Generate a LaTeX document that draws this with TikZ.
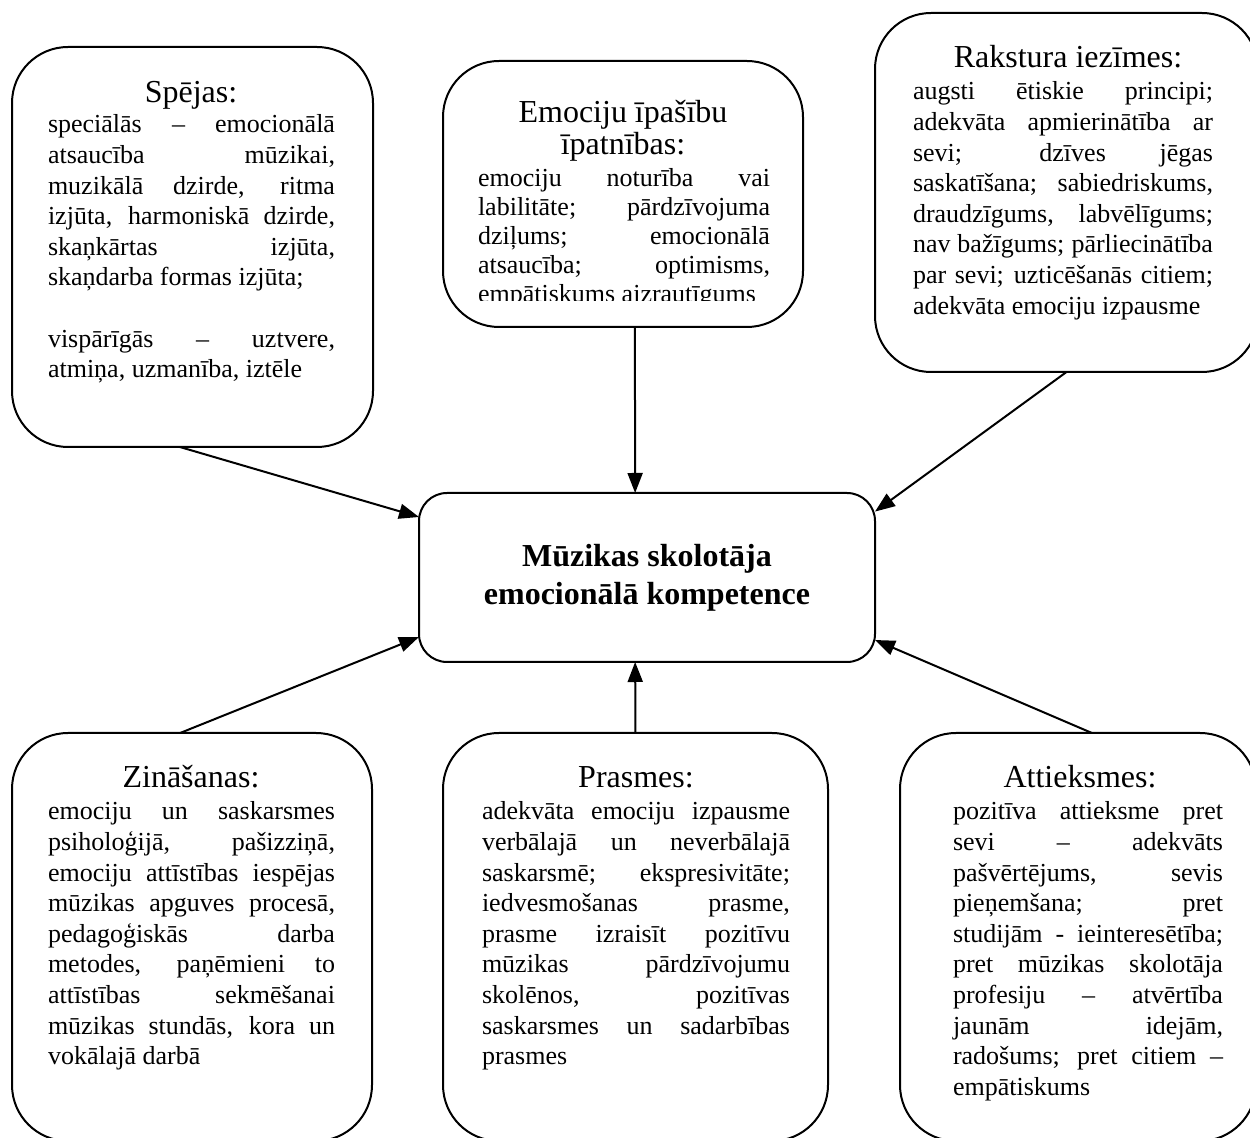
\documentclass[tikz,border=0pt]{standalone}
\usepackage{fontspec}
\setmainfont{Liberation Serif}
\usetikzlibrary{arrows.meta,calc}

\newcommand\jl[1]{\makebox[\linewidth][s]{#1}\par}
\newcommand\bodyfont{\fontsize{13pt}{15.3pt}\selectfont}
\newcommand\bodyfontb{\fontsize{13pt}{14.5pt}\selectfont}
\newcommand\titlefont{\fontsize{16pt}{13.5pt}\selectfont}

\begin{document}
\begin{tikzpicture}[x=0.5pt,y=-0.5pt,
  box/.style={draw,line width=1pt,rounded corners=28pt,inner sep=0pt,outer sep=0pt},
  ttl/.style={anchor=base,inner sep=0pt,outer sep=0pt,font=\titlefont},
  bodytext/.style={anchor=base west,inner sep=0pt,outer sep=0pt},
  arr/.style={line width=1pt,-{Triangle[length=10pt,width=7.5pt]}}]
\useasboundingbox (0,0) rectangle (1250,1138);

% ---------- boxes ----------
\node[box,minimum width=180.5pt,minimum height=200pt] (spejas) at (192.5,247) {};
\node[box,minimum width=180pt,minimum height=133pt] (emo) at (623,194) {};
\node[box,minimum width=191.5pt,minimum height=179.5pt] (rak) at (1066.5,192.5) {};
\node[box,minimum width=180pt,minimum height=204pt] (zin) at (192,937) {};
\node[box,minimum width=192.5pt,minimum height=204pt] (pras) at (635.5,937) {};
\node[box,minimum width=178pt,minimum height=204pt] (att) at (1078,937) {};
\node[box,rounded corners=14pt,minimum width=228pt,minimum height=84.5pt,align=center,
      font=\bfseries\fontsize{16pt}{19pt}\selectfont] (cen) at (647,577.5)
      {Mūzikas skolotāja\\emocionālā kompetence};

% ---------- Spējas ----------
\node[ttl] (spejasT) at (191,103) {Spējas:};
\node[bodytext] (spejasB) at (48,133) {\parbox[t]{143.5pt}{\bodyfont
\jl{speciālās – emocionālā}
\jl{atsaucība mūzikai,}
\jl{muzikālā dzirde, ritma}
\jl{izjūta, harmoniskā dzirde,}
\jl{skaņkārtas izjūta,}
skaņdarba formas izjūta;\par\vspace{\baselineskip}
\jl{vispārīgās – uztvere,}
atmiņa, uzmanība, iztēle}};

% ---------- Emociju ----------
\node[anchor=base,inner sep=0pt,outer sep=0pt] (emoT) at (623,123)
  {\parbox[t]{170pt}{\centering\titlefont Emociju īpašību\\īpatnības:}};
\begin{scope}
\clip (443,61) rectangle (803,300.5);
\node[bodytext] (emoB) at (478,187) {\parbox[t]{146pt}{\bodyfontb
\jl{emociju noturība vai}
\jl{labilitāte; pārdzīvojuma}
\jl{dziļums; emocionālā}
\jl{atsaucība; optimisms,}
empātiskums aizrautīgums}};
\end{scope}

% ---------- Rakstura ----------
\node[ttl] (rakT) at (1068,68) {Rakstura iezīmes:};
\node[bodytext] (rakB) at (913,100) {\parbox[t]{150pt}{\bodyfont
\jl{augsti ētiskie principi;}
\jl{adekvāta apmierinātība ar}
\jl{sevi; dzīves jēgas}
\jl{saskatīšana; sabiedriskums,}
\jl{draudzīgums, labvēlīgums;}
\jl{nav bažīgums; pārliecinātība}
\jl{par sevi; uzticēšanās citiem;}
adekvāta emociju izpausme}};

% ---------- Zināšanas ----------
\node[ttl] (zinT) at (191,788) {Zināšanas:};
\node[bodytext] (zinB) at (48,820) {\parbox[t]{143.5pt}{\bodyfont
\jl{emociju un saskarsmes}
\jl{psiholoģijā, pašizziņā,}
\jl{emociju attīstības iespējas}
\jl{mūzikas apguves procesā,}
\jl{pedagoģiskās darba}
\jl{metodes, paņēmieni to}
\jl{attīstības sekmēšanai}
\jl{mūzikas stundās, kora un}
vokālajā darbā}};

% ---------- Prasmes ----------
\node[ttl] (prasT) at (636,788) {Prasmes:};
\node[bodytext] (prasB) at (482,820) {\parbox[t]{154pt}{\bodyfont
\jl{adekvāta emociju izpausme}
\jl{verbālajā un neverbālajā}
\jl{saskarsmē; ekspresivitāte;}
\jl{iedvesmošanas prasme,}
\jl{prasme izraisīt pozitīvu}
\jl{mūzikas pārdzīvojumu}
\jl{skolēnos, pozitīvas}
\jl{saskarsmes un sadarbības}
prasmes}};

% ---------- Attieksmes ----------
\node[ttl] (attT) at (1080,788) {Attieksmes:};
\node[bodytext] (attB) at (953,820) {\parbox[t]{135pt}{\bodyfont
\jl{pozitīva attieksme pret}
\jl{sevi – adekvāts}
\jl{pašvērtējums, sevis}
\jl{pieņemšana; pret}
\jl{studijām - ieinteresētība;}
\jl{pret mūzikas skolotāja}
\jl{profesiju – atvērtība}
\jl{jaunām idejām,}
\jl{radošums; pret citiem –}
empātiskums}};

% ---------- connectors ----------
\coordinate (s1) at ($(spejas.south west)!0.465!(spejas.south east)$);
\coordinate (e1) at ($(cen.north west)!0.142!(cen.south west)$);
\coordinate (s2) at ($(emo.south west)!0.533!(emo.south east)$);
\coordinate (e2) at ($(cen.north west)!0.474!(cen.north east)$);
\coordinate (e3) at ($(cen.north east)!0.11!(cen.south east)$);
\coordinate (s4) at ($(zin.north west)!0.467!(zin.north east)$);
\coordinate (e4) at ($(cen.north west)!0.852!(cen.south west)$);
\coordinate (e5) at ($(cen.south west)!0.474!(cen.south east)$);
\coordinate (s6) at ($(att.north west)!0.539!(att.north east)$);
\coordinate (e6) at ($(cen.north east)!0.87!(cen.south east)$);

\draw[arr] (s1) -- (e1);
\draw[arr] (s2) -- (e2);
\draw[arr] (rak.south) -- (e3);
\draw[arr] (s4) -- (e4);
\draw[arr] (pras.north) -- (e5);
\draw[arr] (s6) -- (e6);
\end{tikzpicture}
\end{document}
